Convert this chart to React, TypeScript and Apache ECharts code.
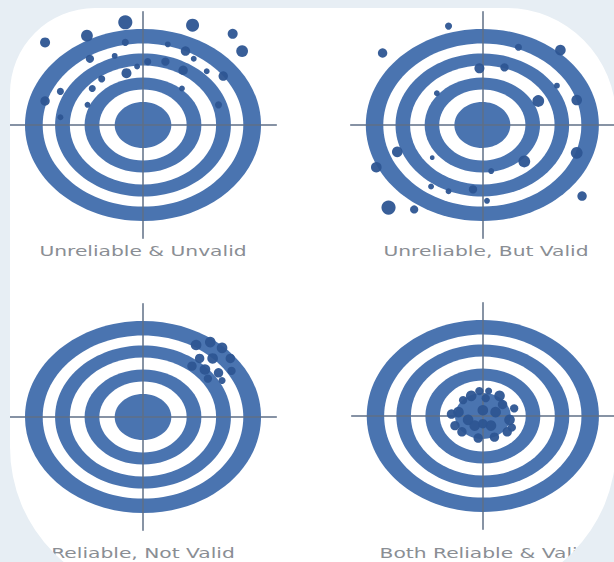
import React, { useEffect, useRef } from "react";
import * as echarts from "echarts";

// ---- data (target units: outer edge of the outer ring = 100) ----
const RING_RADII = [100, 85, 74.5, 62, 49.5, 37, 24];

const LABELS = [
  "Unreliable & Unvalid",
  "Unreliable, But Valid",
  "Reliable, Not Valid",
  "Both Reliable & Valid",
];

// [x, y, size]
const DOTS_UNRELIABLE_UNVALID = [
  [-83, 86, 8.5], [-47.5, 93, 10], [-15, 107, 12], [42, 104, 11], [76, 95, 8.5],
  [84, 77, 10], [-15, 86, 6], [21, 84, 5], [36, 77, 8], [43, 69, 5],
  [-45, 69, 7], [-35, 48, 6], [-14, 54, 8.5], [-5, 61, 5], [4, 66, 6],
  [19, 66, 7], [34, 57, 8], [54, 56, 5], [68, 51, 8], [-43, 38, 6],
  [-70, 35, 6], [-83, 25, 8], [-47, 21, 5], [33, 38, 5], [64, 21, 6],
  [-24, 72, 5], [-70, 8, 5],
];

const DOTS_UNRELIABLE_VALID = [
  [-85.6, 75, 8], [-29, 103, 6], [31, 81, 6], [67, 78, 9], [-2.5, 59, 8.5],
  [19, 60, 7], [48, 25, 10], [81, 26, 9], [-39, 33, 5], [-73, -28, 9],
  [-91, -44, 9], [-43, -34, 4], [36, -38, 10], [81, -29, 10], [7.6, -48, 5],
  [-44, -64, 5], [-29, -69, 5], [-8, -67, 7], [4, -79, 5], [-80.5, -86, 12],
  [-58.5, -88, 7], [85.6, -74, 8], [64, 41, 5],
];

const DOTS_RELIABLE_NOT_VALID = [
  [45, 75, 9], [57, 78, 9], [67, 72, 9], [74, 61, 8], [59, 61, 9],
  [48, 61, 8], [41.5, 53, 8], [52.5, 49.5, 9], [64, 46, 8], [75, 48, 7],
  [55, 40, 7], [67, 38, 6],
];

const DOTS_RELIABLE_VALID = [
  [-10, 21, 9], [14.4, 21, 9], [2.5, 18.5, 7], [-21, 4, 9], [23, -4, 9],
  [-18, -16.5, 8], [-4, -23, 8], [10, -22, 8], [21, -16.5, 8], [-12.7, -4, 9],
  [0, 6, 9], [11, 4, 9], [-7, -10, 9], [7, -10, 9], [17, 12, 8],
  [-17, 16.5, 7], [0, -8, 8], [-27, 2, 8], [27, 8, 7], [-24, -10, 8],
  [25, -12, 7], [-3, 26, 7], [5, 26, 6],
];

const ALL_DOTS = [
  DOTS_UNRELIABLE_UNVALID,
  DOTS_UNRELIABLE_VALID,
  DOTS_RELIABLE_NOT_VALID,
  DOTS_RELIABLE_VALID,
];

const X_RANGE = 113;
const Y_RANGE = 118;

const RING_COLOR = "#4a74b0";
const DOT_COLOR = "#2d5592";
const CROSS_COLOR = "#5f6f86";
const OUTSIDE_COLOR = "#e7eef4";

const FRAME_D =
  "M0 0 L614 0 L614 562 L0 562 Z " +
  "M95 8 A85 85 0 0 0 10 93 L10 447 A150 150 0 0 0 160 597 L466 597 A150 150 0 0 0 616 447 L616 118 A110 110 0 0 0 506 8 Z";

let registered = false;

export default function App() {
  const ref = useRef<HTMLDivElement>(null);

  useEffect(() => {
    document.body.style.margin = "0";
    if (!registered) {
      echarts.graphic.registerShape("frame", echarts.graphic.extendPath(FRAME_D, {}));
      registered = true;
    }
    const chart = echarts.init(ref.current!, null, { renderer: "svg" });

    const centers = [
      [143, 125],
      [484, 125],
      [143, 417],
      [485, 416],
    ];
    const gw = X_RANGE * 2 * 1.18;
    const gh = Y_RANGE * 2 * 0.96;

    const grids = centers.map(([cx, cy]) => ({
      left: cx - gw / 2,
      top: cy - gh / 2,
      width: gw,
      height: gh,
      containLabel: false,
    }));

    const axisCommon = {
      type: "value",
      axisTick: { show: false },
      axisLabel: { show: false },
      splitLine: { show: false },
      z: 3,
      axisLine: { show: true, onZero: true, lineStyle: { color: CROSS_COLOR, width: 1.5 } },
    };

    const xAxes = centers.map((_, i) => ({ ...axisCommon, gridIndex: i, min: -X_RANGE, max: X_RANGE }));
    const yAxes = centers.map((_, i) => ({ ...axisCommon, gridIndex: i, min: -Y_RANGE, max: Y_RANGE }));

    const series: any[] = [];
    centers.forEach((_, i) => {
      series.push({
        type: "custom",
        xAxisIndex: i,
        yAxisIndex: i,
        z: 2,
        clip: false,
        data: RING_RADII.map((r) => [r]),
        renderItem: (params: any, api: any) => {
          const r = api.value(0);
          const c = api.coord([0, 0]);
          const s = api.size([r, r]);
          return {
            type: "ellipse",
            z2: params.dataIndex,
            shape: { cx: c[0], cy: c[1], rx: s[0], ry: s[1] },
            style: { fill: params.dataIndex % 2 === 0 ? RING_COLOR : "#ffffff" },
          };
        },
      });
      series.push({
        type: "scatter",
        xAxisIndex: i,
        yAxisIndex: i,
        z: 4,
        data: ALL_DOTS[i],
        symbolSize: (v: number[]) => v[2] * 1.18,
        itemStyle: { color: DOT_COLOR, opacity: 0.95 },
      });
    });

    const labelPos = [
      [143, 251],
      [486, 251],
      [143, 553],
      [485, 553],
    ];

    const graphic: any[] = LABELS.map((t, i) => ({
      type: "text",
      x: labelPos[i][0],
      y: labelPos[i][1],
      scaleX: 1.5,
      z: 50,
      style: {
        text: t,
        fill: "#8a8e94",
        font: '13.5px "DejaVu Sans"',
        textAlign: "center",
        textVerticalAlign: "middle",
      },
    }));
    graphic.push({
      type: "frame",
      x: 0,
      y: 0,
      scaleX: 1,
      scaleY: 1,
      z: 100,
      style: { fill: OUTSIDE_COLOR },
    });

    chart.setOption({
      animation: false,
      backgroundColor: "#ffffff",
      grid: grids,
      xAxis: xAxes,
      yAxis: yAxes,
      series,
      graphic,
    });

    return () => chart.dispose();
  }, []);

  return (
    <div
      ref={ref}
      style={{ width: 614, height: 562, position: "fixed", left: 0, top: 0 }}
    />
  );
}
